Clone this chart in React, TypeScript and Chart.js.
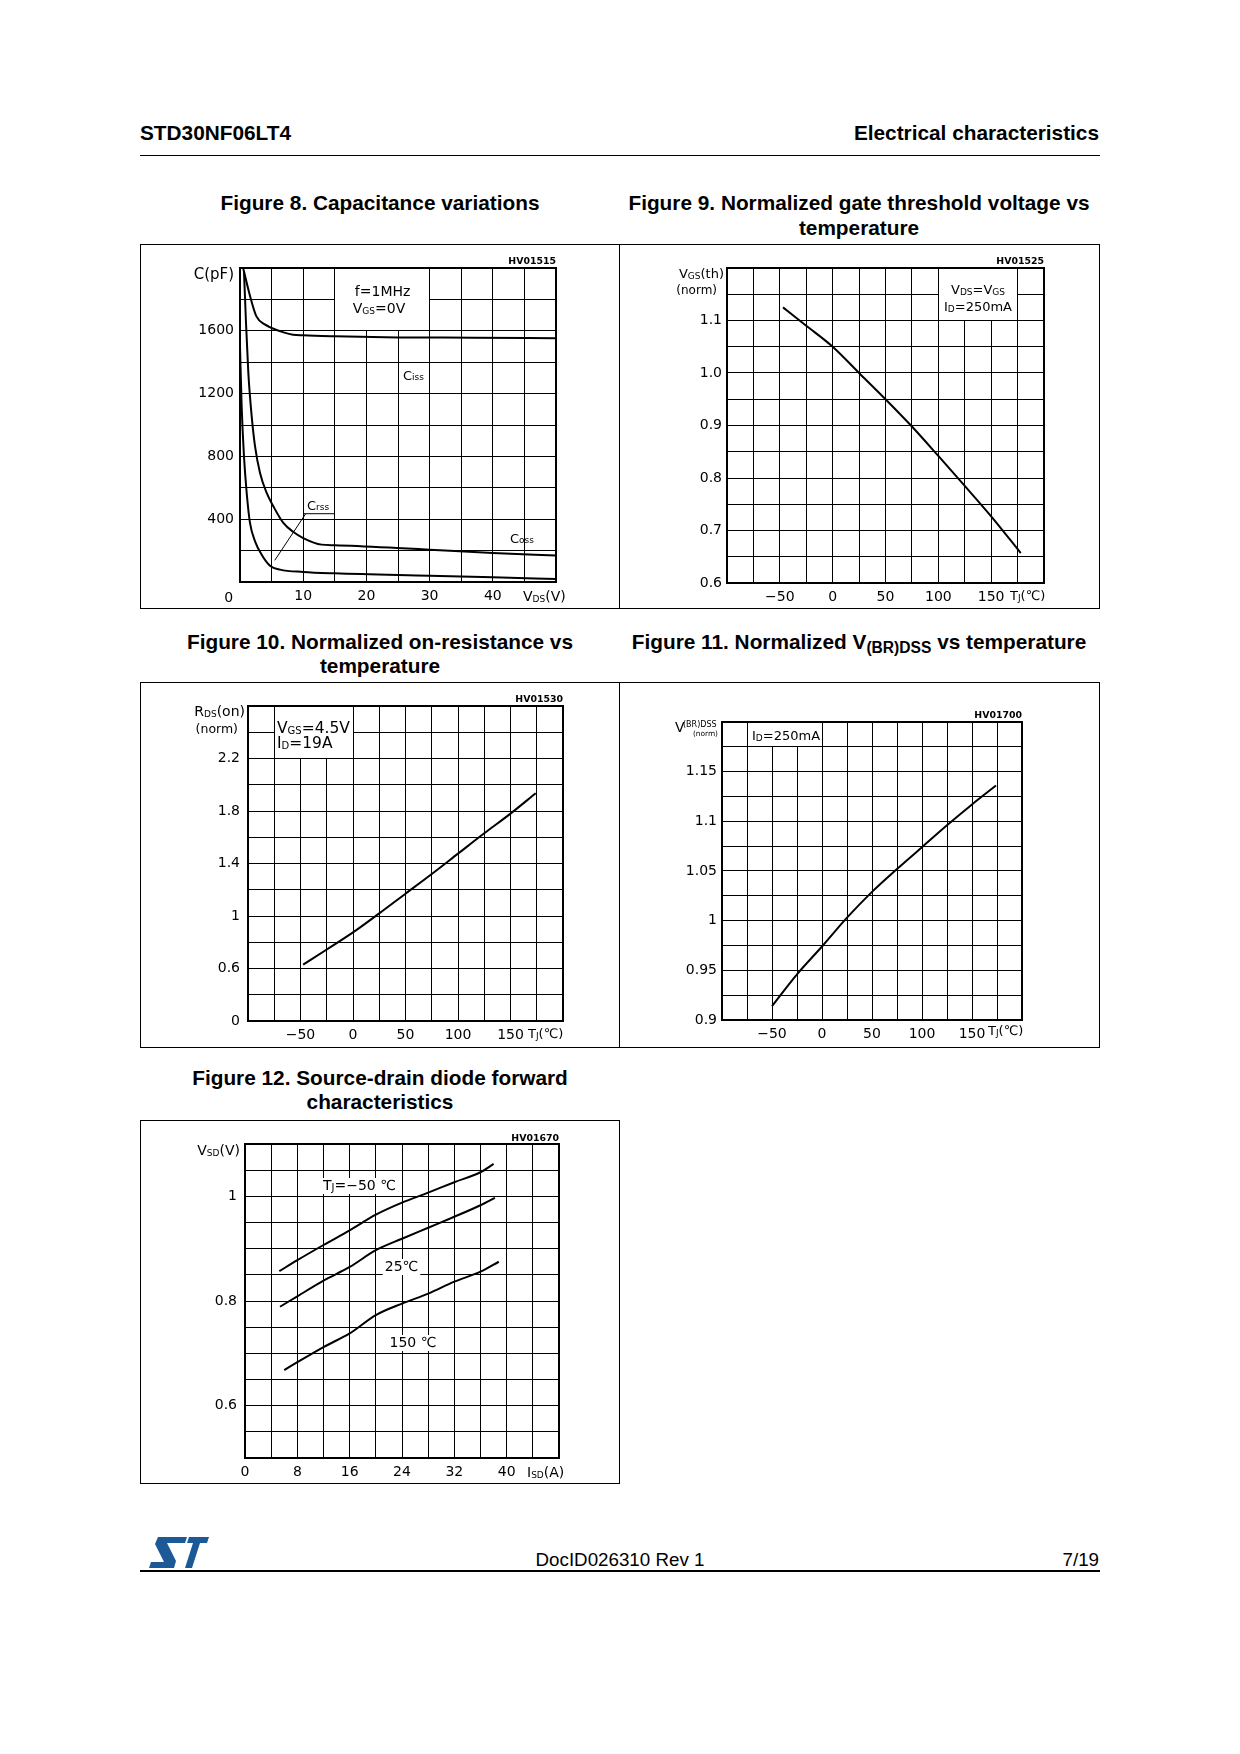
import React, { useEffect, useRef } from 'react';
import { Chart, registerables } from 'chart.js';

Chart.register(...registerables);

const CF = '"DejaVu Sans", Verdana, sans-serif';
const PF = '"Liberation Sans", Arial, Helvetica, sans-serif';

// ---------------- Figure 8: capacitance variations ----------------
const capVdsCiss = [0.53, 1.6, 2.6, 4.0, 5.0, 6.9, 8.4, 10, 15, 25, 37, 50];
const capCiss = [1994, 1820, 1692, 1639, 1618, 1590, 1575, 1571, 1565, 1558, 1556, 1552];
const capVdsCoss = [0.63, 0.95, 1.32, 1.85, 2.38, 3.17, 4.22, 5.28, 6.86, 8.45, 10, 12.9, 15, 24.8, 30, 40, 50];
const capCoss = [1979, 1650, 1331, 1055, 864, 694, 567, 482, 376, 318, 280, 238, 234, 217, 206, 185, 168];
const capVdsCrss = [0, 0.26, 0.63, 1.06, 1.58, 2.38, 3.43, 4.75, 6.34, 10, 15, 30, 40, 50];
const capCrss = [1501, 1119, 800, 567, 376, 259, 174, 104, 79, 64, 55, 40, 30, 19];
const capXTickValues = [10, 20, 30, 40];
const capXTickLabels = ['10', '20', '30', '40'];
const capYTickValues = [400, 800, 1200, 1600];
const capYTickLabels = ['400', '800', '1200', '1600'];

// ---------------- Figure 9: normalized gate threshold voltage ----------------
const vthTemp = [-47, -25, 0, 25, 50, 75, 100, 125, 150, 178];
const vthNorm = [1.125, 1.09, 1.05, 1.0, 0.95, 0.898, 0.842, 0.785, 0.727, 0.657];
const vthYTickValues = [0.6, 0.7, 0.8, 0.9, 1.0, 1.1];
const vthYTickLabels = ['0.6', '0.7', '0.8', '0.9', '1.0', '1.1'];

// ---------------- Figure 10: normalized on-resistance ----------------
const rdsTemp = [-47.5, -25, 0, 25, 50, 75, 100, 125, 150, 174];
const rdsNorm = [0.63, 0.745, 0.875, 1.02, 1.17, 1.32, 1.475, 1.63, 1.78, 1.935];
const rdsYTickValues = [0.2, 0.6, 1, 1.4, 1.8, 2.2];
const rdsYTickLabels = ['0', '0.6', '1', '1.4', '1.8', '2.2'];

// ---------------- Figure 11: normalized V(BR)DSS ----------------
const bvTemp = [-50, -25, 0, 25, 50, 75, 100, 125, 150, 174];
const bvNorm = [0.914, 0.946, 0.974, 1.003, 1.029, 1.052, 1.074, 1.096, 1.117, 1.136];
const bvYTickValues = [0.9, 0.95, 1, 1.05, 1.1, 1.15];
const bvYTickLabels = ['0.9', '0.95', '1', '1.05', '1.1', '1.15'];

// shared temperature axis ticks
const tempXTickValues = [-50, 0, 50, 100, 150];
const tempXTickLabels = ['\u221250', '0', '50', '100', '150'];

// ---------------- Figure 12: source-drain diode forward ----------------
const isdM50 = [5.25, 8, 12, 16, 20, 24, 28, 32, 36, 38];
const vsdM50 = [0.857, 0.878, 0.907, 0.935, 0.965, 0.988, 1.007, 1.027, 1.046, 1.062];
const isd25 = [5.35, 8, 12, 16, 20, 24, 28, 32, 36, 38.2];
const vsd25 = [0.789, 0.809, 0.839, 0.865, 0.897, 0.919, 0.94, 0.961, 0.983, 0.997];
const isd150 = [6, 8, 12, 16, 20, 24, 28, 32, 36, 38.8];
const vsd150 = [0.668, 0.683, 0.712, 0.738, 0.773, 0.795, 0.814, 0.837, 0.856, 0.875];
const isdXTickValues = [0, 8, 16, 24, 32, 40];
const isdXTickLabels = ['0', '8', '16', '24', '32', '40'];
const vsdYTickValues = [0.6, 0.8, 1];
const vsdYTickLabels = ['0.6', '0.8', '1'];

// ---------------- types & helpers ----------------
type Seg = { t: string; s: number; dy?: number; b?: boolean };
type Txt = { x: number; y: number; segs: Seg[]; align?: 'left' | 'center' | 'right'; bg?: boolean };
type WBox = { x1: number; x2: number; y1: number; y2: number };
type Ln = { x1: number; y1: number; x2: number; y2: number };
type Series = { xs: number[]; ys: number[] };
type AxisSpec = { min: number; max: number; step: number; values: number[]; labels: string[]; pad: number };
type Spec = {
  box: { x: number; y: number; w: number; h: number };
  area: { l: number; t: number; r: number; b: number };
  x: AxisSpec;
  y: AxisSpec;
  series: Series[];
  boxes: WBox[];
  lines: Ln[];
  texts: Txt[];
};

const n = (t: string, s: number): Seg => ({ t, s });
const sub = (t: string, s: number, dy = 1): Seg => ({ t, s, dy });
const hv = (t: string): Seg => ({ t, s: 9.4, b: true });
const tj = (s: number): Seg[] => [n('T', s), sub('J', s - 4, 1), n('(\u2103)', s)];

const YW = 60;
const XH = 20;

function segFont(sg: Seg) {
  return `${sg.b ? 'bold ' : ''}${sg.s}px ${CF}`;
}

function drawRich(ctx: CanvasRenderingContext2D, x: number, y: number, segs: Seg[], align: string, bg?: boolean) {
  let total = 0;
  const ws = segs.map((sg) => {
    ctx.font = segFont(sg);
    const w = ctx.measureText(sg.t).width;
    total += w;
    return w;
  });
  let sx = align === 'center' ? x - total / 2 : align === 'right' ? x - total : x;
  if (bg) {
    ctx.fillStyle = '#fff';
    ctx.fillRect(sx - 2, y - 12, total + 4, 16);
  }
  ctx.fillStyle = '#000';
  ctx.textBaseline = 'alphabetic';
  ctx.textAlign = 'left';
  segs.forEach((sg, i) => {
    ctx.font = segFont(sg);
    ctx.fillText(sg.t, sx, y + (sg.dy || 0));
    sx += ws[i];
  });
}

// pixel column/row that Chart.js uses for a 1px grid line at pixel p
const gridCol = (p: number) => Math.round(p - 0.5);

function makePlugin(spec: Spec) {
  const ox = spec.box.x + 1;
  const oy = spec.box.y + 1;
  return {
    id: 'decor',
    beforeDatasetsDraw(chart: any) {
      const { ctx, chartArea: a, scales } = chart;
      const xs = scales.x;
      const ys = scales.y;
      ctx.save();
      spec.boxes.forEach((b) => {
        const X1 = gridCol(xs.getPixelForValue(b.x1));
        const X2 = gridCol(xs.getPixelForValue(b.x2));
        const Y1 = gridCol(ys.getPixelForValue(b.y2));
        const Y2 = gridCol(ys.getPixelForValue(b.y1));
        ctx.fillStyle = '#fff';
        ctx.fillRect(X1 + 1, Y1 + 1, X2 - X1 - 1, Y2 - Y1 - 1);
        // box outline on its grid lines
        ctx.strokeStyle = '#000';
        ctx.lineWidth = 1;
        ctx.strokeRect(X1 + 0.5, Y1 + 0.5, X2 - X1, Y2 - Y1);
      });
      ctx.strokeStyle = '#000';
      ctx.lineWidth = 2;
      ctx.strokeRect(a.left, a.top, a.right - a.left, a.bottom - a.top);
      ctx.restore();
    },
    afterDatasetsDraw(chart: any) {
      const { ctx, scales } = chart;
      const xs = scales.x;
      const ys = scales.y;
      ctx.save();
      ctx.strokeStyle = '#000';
      ctx.lineWidth = 1;
      spec.lines.forEach((l) => {
        ctx.beginPath();
        ctx.moveTo(xs.getPixelForValue(l.x1), ys.getPixelForValue(l.y1));
        ctx.lineTo(xs.getPixelForValue(l.x2), ys.getPixelForValue(l.y2));
        ctx.stroke();
      });
      spec.texts.forEach((t) => drawRich(ctx, t.x - ox, t.y - oy, t.segs, t.align || 'left', t.bg));
      ctx.restore();
    },
  };
}

function tickCb(ax: AxisSpec) {
  return (v: any) => {
    const i = ax.values.findIndex((t) => Math.abs(t - Number(v)) < 1e-6);
    return i >= 0 ? ax.labels[i] : '';
  };
}

function buildConfig(spec: Spec): any {
  const cw = spec.box.w - 2;
  const ch = spec.box.h - 2;
  const ox = spec.box.x + 1;
  const oy = spec.box.y + 1;
  const l = spec.area.l - ox;
  const t = spec.area.t - oy;
  const r = spec.area.r - ox;
  const b = spec.area.b - oy;
  const grid = { color: '#000', lineWidth: 1, drawTicks: false };
  const font = { family: CF, size: 14 };
  return {
    type: 'line',
    data: {
      datasets: spec.series.map((s) => ({
        data: s.xs.map((x, i) => ({ x, y: s.ys[i] })),
        borderColor: '#000',
        borderWidth: 2,
        pointRadius: 0,
        fill: false,
        cubicInterpolationMode: 'monotone',
      })),
    },
    options: {
      animation: false,
      responsive: false,
      devicePixelRatio: 1,
      events: [],
      layout: { padding: { left: l - YW, top: t, right: cw - r, bottom: ch - b - XH } },
      plugins: { legend: { display: false }, tooltip: { enabled: false } },
      scales: {
        x: {
          type: 'linear',
          min: spec.x.min,
          max: spec.x.max,
          grid,
          border: { display: false },
          ticks: {
            stepSize: spec.x.step,
            autoSkip: false,
            maxRotation: 0,
            minRotation: 0,
            padding: spec.x.pad,
            color: '#000',
            font,
            callback: tickCb(spec.x),
          },
          afterFit: (s: any) => {
            s.height = XH;
            s.paddingLeft = 0;
            s.paddingRight = 0;
          },
        },
        y: {
          type: 'linear',
          min: spec.y.min,
          max: spec.y.max,
          grid,
          border: { display: false },
          ticks: {
            stepSize: spec.y.step,
            autoSkip: false,
            padding: spec.y.pad,
            color: '#000',
            font,
            callback: tickCb(spec.y),
          },
          afterFit: (s: any) => {
            s.width = YW;
            s.paddingTop = 0;
            s.paddingBottom = 0;
          },
        },
      },
    },
    plugins: [makePlugin(spec)],
  };
}

// ---------------- chart specs ----------------
const fig8: Spec = {
  box: { x: 140, y: 244, w: 480, h: 365 },
  area: { l: 240, t: 268, r: 556, b: 582 },
  x: { min: 0, max: 50, step: 5, values: capXTickValues, labels: capXTickLabels, pad: 6 },
  y: { min: 0, max: 2000, step: 200, values: capYTickValues, labels: capYTickLabels, pad: 6 },
  series: [
    { xs: capVdsCiss, ys: capCiss },
    { xs: capVdsCoss, ys: capCoss },
    { xs: capVdsCrss, ys: capCrss },
  ],
  boxes: [{ x1: 15, x2: 30, y1: 1600, y2: 2000 }],
  lines: [
    { x1: 10, y1: 435, x2: 14.9, y2: 435 },
    { x1: 10.4, y1: 435, x2: 5.5, y2: 138 },
  ],
  texts: [
    { x: 234, y: 279, align: 'right', segs: [n('C(pF)', 15)] },
    { x: 228.7, y: 602, align: 'center', segs: [n('0', 14)] },
    { x: 523, y: 601, segs: [n('V', 14), sub('DS', 9), n('(V)', 14)] },
    { x: 556, y: 264, align: 'right', segs: [hv('HV01515')] },
    { x: 382.6, y: 296, align: 'center', segs: [n('f=1MHz', 14)] },
    { x: 379, y: 313, align: 'center', segs: [n('V', 14), sub('GS', 9), n('=0V', 14)] },
    { x: 403, y: 380, segs: [n('C', 13), n('iss', 9)] },
    { x: 510, y: 543, segs: [n('C', 13), n('oss', 9)] },
    { x: 307, y: 510, segs: [n('C', 13), n('rss', 9)] },
  ],
};

const fig9: Spec = {
  box: { x: 619, y: 244, w: 481, h: 365 },
  area: { l: 727, t: 268, r: 1044, b: 583 },
  x: { min: -100, max: 200, step: 25, values: tempXTickValues, labels: tempXTickLabels, pad: 6 },
  y: { min: 0.6, max: 1.2, step: 0.05, values: vthYTickValues, labels: vthYTickLabels, pad: 5 },
  series: [{ xs: vthTemp, ys: vthNorm }],
  boxes: [{ x1: 100, x2: 175, y1: 1.1, y2: 1.2 }],
  lines: [],
  texts: [
    { x: 724, y: 278, align: 'right', segs: [n('V', 13), sub('GS', 9), n('(th)', 13)] },
    { x: 717, y: 294, align: 'right', segs: [n('(norm)', 12)] },
    { x: 1010, y: 600, segs: tj(13) },
    { x: 1044, y: 264, align: 'right', segs: [hv('HV01525')] },
    { x: 978, y: 294, align: 'center', segs: [n('V', 13), sub('DS', 9), n('=V', 13), sub('GS', 9)] },
    { x: 978, y: 311, align: 'center', segs: [n('I', 13), sub('D', 9), n('=250mA', 13)] },
  ],
};

const fig10: Spec = {
  box: { x: 140, y: 682, w: 480, h: 366 },
  area: { l: 248, t: 706, r: 563, b: 1021 },
  x: { min: -100, max: 200, step: 25, values: tempXTickValues, labels: tempXTickLabels, pad: 6 },
  y: { min: 0.2, max: 2.6, step: 0.2, values: rdsYTickValues, labels: rdsYTickLabels, pad: 8 },
  series: [{ xs: rdsTemp, ys: rdsNorm }],
  boxes: [{ x1: -75, x2: 0, y1: 2.2, y2: 2.6 }],
  lines: [],
  texts: [
    { x: 245, y: 716, align: 'right', segs: [n('R', 14), sub('DS', 9), n('(on)', 14)] },
    { x: 238, y: 733, align: 'right', segs: [n('(norm)', 12.5)] },
    { x: 528, y: 1038, segs: tj(13) },
    { x: 563, y: 702, align: 'right', segs: [hv('HV01530')] },
    { x: 277, y: 733, segs: [n('V', 15.5), sub('GS', 10), n('=4.5V', 15.5)] },
    { x: 277, y: 748, segs: [n('I', 15.5), sub('D', 10), n('=19A', 15.5)] },
  ],
};

const fig11: Spec = {
  box: { x: 619, y: 682, w: 481, h: 366 },
  area: { l: 722, t: 722, r: 1022, b: 1020 },
  x: { min: -100, max: 200, step: 25, values: tempXTickValues, labels: tempXTickLabels, pad: 6 },
  y: { min: 0.9, max: 1.2, step: 0.025, values: bvYTickValues, labels: bvYTickLabels, pad: 5 },
  series: [{ xs: bvTemp, ys: bvNorm }],
  boxes: [{ x1: -75, x2: 0, y1: 1.175, y2: 1.2 }],
  lines: [],
  texts: [
    { x: 675, y: 732, segs: [n('V', 14)] },
    { x: 683, y: 727, segs: [n('(BR)DSS', 8)] },
    { x: 718, y: 736, align: 'right', segs: [n('(norm)', 7.4)] },
    { x: 988, y: 1035, segs: tj(13) },
    { x: 1022, y: 718, align: 'right', segs: [hv('HV01700')] },
    { x: 752, y: 740, segs: [n('I', 13), sub('D', 9), n('=250mA', 13)] },
  ],
};

const fig12: Spec = {
  box: { x: 140, y: 1120, w: 480, h: 364 },
  area: { l: 245, t: 1144, r: 559, b: 1458 },
  x: { min: 0, max: 48, step: 4, values: isdXTickValues, labels: isdXTickLabels, pad: 6 },
  y: { min: 0.5, max: 1.1, step: 0.05, values: vsdYTickValues, labels: vsdYTickLabels, pad: 8 },
  series: [
    { xs: isdM50, ys: vsdM50 },
    { xs: isd25, ys: vsd25 },
    { xs: isd150, ys: vsd150 },
  ],
  boxes: [],
  lines: [],
  texts: [
    { x: 240, y: 1155, align: 'right', segs: [n('V', 14), sub('SD', 9), n('(V)', 14)] },
    { x: 527, y: 1477, segs: [n('I', 14), sub('SD', 9), n('(A)', 14)] },
    { x: 559, y: 1141, align: 'right', segs: [hv('HV01670')] },
    { x: 323, y: 1190, bg: true, segs: [n('T', 14), sub('J', 10), n('=\u221250 \u2103', 14)] },
    { x: 401.5, y: 1271, align: 'center', bg: true, segs: [n('25\u2103', 14)] },
    { x: 413, y: 1347, align: 'center', bg: true, segs: [n('150 \u2103', 14)] },
  ],
};

// ---------------- components ----------------
function Plot({ spec }: { spec: Spec }) {
  const ref = useRef<HTMLCanvasElement>(null);
  useEffect(() => {
    if (!ref.current) return;
    const c = new Chart(ref.current, buildConfig(spec));
    return () => c.destroy();
  }, [spec]);
  const cw = spec.box.w - 2;
  const ch = spec.box.h - 2;
  return (
    <>
      <div
        style={{
          position: 'absolute',
          left: spec.box.x,
          top: spec.box.y,
          width: spec.box.w,
          height: spec.box.h,
          border: '1px solid #000',
          boxSizing: 'border-box',
        }}
      />
      <canvas
        ref={ref}
        width={cw}
        height={ch}
        style={{ position: 'absolute', left: spec.box.x + 1, top: spec.box.y + 1, width: cw, height: ch }}
      />
    </>
  );
}

function PT({
  x,
  base,
  size,
  bold,
  align = 'left',
  children,
}: {
  x: number;
  base: number;
  size: number;
  bold?: boolean;
  align?: 'left' | 'center' | 'right';
  children: any;
}) {
  const style: any = {
    position: 'absolute',
    top: base + 2.5 - 0.8465 * size,
    fontSize: size,
    lineHeight: 1,
    fontWeight: bold ? 'bold' : 'normal',
    whiteSpace: 'nowrap',
    fontFamily: PF,
    color: '#000',
  };
  if (align === 'left') style.left = x;
  else if (align === 'right') {
    style.left = x - 800;
    style.width = 800;
    style.textAlign = 'right';
  } else {
    style.left = x - 400;
    style.width = 800;
    style.textAlign = 'center';
  }
  return <div style={style}>{children}</div>;
}

function StLogo() {
  return (
    <svg style={{ position: 'absolute', left: 149, top: 1537 }} width={60} height={31} viewBox="0 0 60 31">
      <path fill="#1b5a96" d="M9,0 H38 L36,6 H18 L27,24 L25,31 H0 L2,25 H15 L6,7 Z" />
      <path fill="#1b5a96" d="M40,0 H60 L58,6 H51 L43,31 H36 L44,6 H38 Z" />
    </svg>
  );
}

export default function App() {
  const T = 20.8;
  return (
    <div
      style={{
        position: 'absolute',
        left: 0,
        top: 0,
        width: 1240,
        height: 1754,
        background: '#fff',
        overflow: 'hidden',
        fontFamily: PF,
      }}
    >
      <PT x={140} base={138} size={T} bold>
        STD30NF06LT4
      </PT>
      <PT x={1099} base={138} size={T} bold align="right">
        Electrical characteristics
      </PT>
      <div style={{ position: 'absolute', left: 140, top: 155, width: 960, height: 1, background: '#000' }} />

      <PT x={380} base={208.5} size={T} bold align="center">
        Figure 8. Capacitance variations
      </PT>
      <PT x={859} base={208.5} size={T} bold align="center">
        Figure 9. Normalized gate threshold voltage vs
      </PT>
      <PT x={859} base={233.5} size={T} bold align="center">
        temperature
      </PT>

      <PT x={380} base={647} size={T} bold align="center">
        Figure 10. Normalized on-resistance vs
      </PT>
      <PT x={380} base={671} size={T} bold align="center">
        temperature
      </PT>
      <PT x={859} base={647} size={T} bold align="center">
        Figure 11. Normalized V
        <span style={{ fontSize: 15.6, position: 'relative', top: 4 }}>(BR)DSS</span> vs temperature
      </PT>

      <PT x={380} base={1083} size={T} bold align="center">
        Figure 12. Source-drain diode forward
      </PT>
      <PT x={380} base={1107} size={T} bold align="center">
        characteristics
      </PT>

      <Plot spec={fig8} />
      <Plot spec={fig9} />
      <Plot spec={fig10} />
      <Plot spec={fig11} />
      <Plot spec={fig12} />

      <StLogo />
      <PT x={620} base={1564} size={18.75} align="center">
        DocID026310 Rev 1
      </PT>
      <PT x={1099} base={1564} size={18.75} align="right">
        7/19
      </PT>
      <div style={{ position: 'absolute', left: 140, top: 1570, width: 960, height: 2, background: '#000' }} />
    </div>
  );
}
